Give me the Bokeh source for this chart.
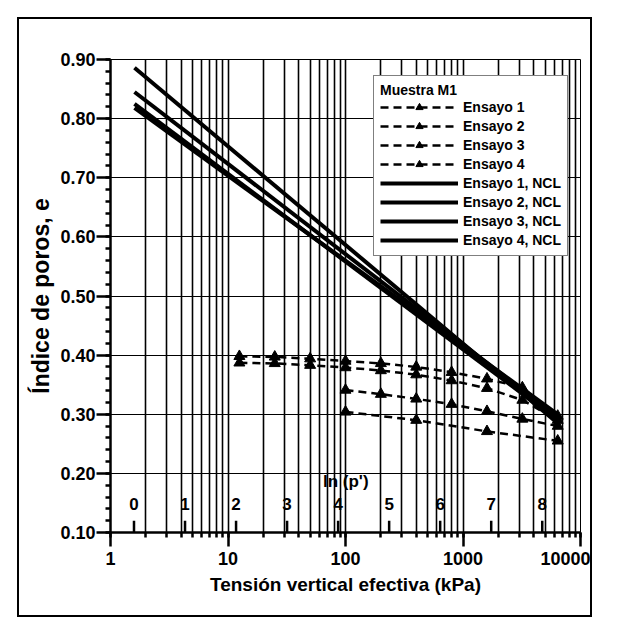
from bokeh.plotting import figure
from bokeh.models import (Range1d, LinearScale, FixedTicker, NumeralTickFormatter,
                          Legend, LegendItem)
from bokeh.core.properties import value
from bokeh.embed import file_html
from bokeh.resources import INLINE

# Oedometer tests, sample M1: void ratio vs effective vertical stress (kPa)
p_full = [12.5, 25, 50, 100, 200, 400, 800, 1600, 3200, 6400]
p_from100 = [100, 200, 400, 800, 1600, 3200, 6400]
p_step4 = [100, 400, 1600, 6400]

e_ensayo1 = [0.398, 0.397, 0.394, 0.390, 0.386, 0.380, 0.371, 0.360, 0.345, 0.297]
e_ensayo2 = [0.387, 0.386, 0.383, 0.379, 0.374, 0.367, 0.357, 0.344, 0.324, 0.290]
e_ensayo3 = [0.341, 0.334, 0.326, 0.317, 0.305, 0.292, 0.280]
e_ensayo4 = [0.304, 0.290, 0.271, 0.255]

# Normal consolidation lines, drawn between their two end points
p_ncl = [1.6, 6400]
e_ncl1 = [0.886, 0.285]
e_ncl2 = [0.845, 0.295]
e_ncl3 = [0.825, 0.290]
e_ncl4 = [0.818, 0.300]

# Secondary scale: ln(p')
ln_ticks = [0, 1, 2, 3, 4, 5, 6, 7, 8]
ln_labels = [str(t) for t in ln_ticks]

x_major = [1, 10, 100, 1000, 10000]
x_all = [m * d for d in [1, 10, 100, 1000] for m in range(1, 10)] + [10000]
y_major = [0.1, 0.2, 0.3, 0.4, 0.5, 0.6, 0.7, 0.8, 0.9]
y_minor = [round(0.1 + 0.02 * i, 2) for i in range(41)]

FONT = "Liberation Sans"

p = figure(width=575, height=600, x_axis_type="log",
           x_range=Range1d(1, 10000), y_range=Range1d(0.10, 0.90),
           output_backend="svg", toolbar_location=None,
           min_border_left=91, min_border_right=14,
           min_border_top=40, min_border_bottom=87,
           background_fill_color="white", border_fill_color="white")
p.styles = {"margin-left": "17px", "margin-top": "17px",
            "border": "2px solid black"}

p.extra_x_ranges = {"ln": Range1d(-0.4605, 8.7498)}
p.extra_x_scales = {"ln": LinearScale()}

# axes
p.xaxis.ticker = FixedTicker(ticks=x_major, minor_ticks=x_all)
p.xaxis.formatter = NumeralTickFormatter(format="0")
p.yaxis.ticker = FixedTicker(ticks=y_major, minor_ticks=y_minor)
p.yaxis.formatter = NumeralTickFormatter(format="0.00")
for ax in (p.xaxis[0], p.yaxis[0]):
    ax.axis_line_color = "black"
    ax.axis_line_width = 2.5
    ax.major_tick_line_color = "black"
    ax.major_tick_line_width = 2.5
    ax.minor_tick_line_color = "black"
    ax.minor_tick_line_width = 2.5
    ax.major_tick_in = 0
    ax.major_tick_out = 14
    ax.minor_tick_in = 0
    ax.minor_tick_out = 5
    ax.major_label_text_font = FONT
    ax.major_label_text_font_style = "bold"
    ax.major_label_text_font_size = "18px"
    ax.major_label_text_color = "black"
    ax.axis_label_text_font = FONT
    ax.axis_label_text_font_style = "bold"
    ax.axis_label_text_font_size = "19px"
    ax.axis_label_text_color = "black"
p.xaxis.axis_label = "Tensión vertical efectiva (kPa)"
p.yaxis.axis_label = "Índice de poros, e"
p.yaxis.axis_label_text_font_size = "23px"
p.xaxis.major_label_standoff = 5
p.xaxis.axis_label_standoff = 6
p.yaxis.major_label_standoff = 1
p.yaxis.axis_label_standoff = 3

# grid
p.xgrid.ticker = FixedTicker(ticks=x_all)
p.xgrid.grid_line_color = "black"
p.xgrid.grid_line_width = 1.6
p.ygrid.ticker = FixedTicker(ticks=y_major)
p.ygrid.grid_line_color = "black"
p.ygrid.grid_line_width = 1.2
p.outline_line_color = "black"
p.outline_line_width = 1

# ln(p') scale drawn inside the plot
p.segment(x0=ln_ticks, x1=ln_ticks, y0=[0.10] * 9, y1=[0.12] * 9,
          x_range_name="ln", line_color="black", line_width=2.5)
p.text(x=ln_ticks, y=[0.149] * 9, text=ln_labels, x_range_name="ln",
       text_font=value(FONT), text_font_style="bold", text_font_size="17px",
       text_align="center", text_baseline="middle", text_color="black")
p.text(x=[4.15], y=[0.186], text=["ln (p')"], x_range_name="ln",
       text_font=value(FONT), text_font_style="bold", text_font_size="17px",
       text_align="center", text_baseline="middle", text_color="black")

items = []
series = [("Ensayo 1", p_full, e_ensayo1), ("Ensayo 2", p_full, e_ensayo2),
          ("Ensayo 3", p_from100, e_ensayo3), ("Ensayo 4", p_step4, e_ensayo4)]
for name, xs, ys in series:
    ln = p.line(xs, ys, line_color="black", line_width=2.5, line_dash="8 5")
    sc = p.scatter(xs, ys, marker="triangle", size=11, fill_color="black",
                   line_color="black")
    items.append(LegendItem(label=name, renderers=[ln, sc]))

ncl = [("Ensayo 1, NCL", e_ncl1), ("Ensayo 2, NCL", e_ncl2),
       ("Ensayo 3, NCL", e_ncl3), ("Ensayo 4, NCL", e_ncl4)]
for name, ys in ncl:
    ln = p.line(p_ncl, ys, line_color="black", line_width=4)
    items.append(LegendItem(label=name, renderers=[ln]))

legend = Legend(items=items, location=(263, 276), title="Muestra M1",
                title_text_font=FONT, title_text_font_style="bold",
                title_text_font_size="14px", title_text_color="black",
                title_text_align="center", title_standoff=0,
                label_text_font=FONT, label_text_font_style="bold",
                label_text_font_size="14px", label_text_color="black",
                glyph_width=78, glyph_height=18, label_height=18,
                spacing=1, padding=6, margin=0,
                border_line_color="black", border_line_width=1.5,
                background_fill_color="white", background_fill_alpha=1.0)
p.add_layout(legend)

open("out.html", "w").write(file_html(p, INLINE))
